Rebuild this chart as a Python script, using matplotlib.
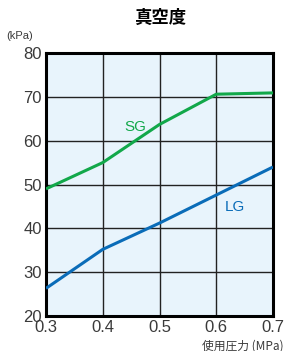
import matplotlib.pyplot as plt

plt.rcParams['font.family'] = ['Liberation Sans Narrow', 'Liberation Sans', 'Noto Sans CJK JP', 'DejaVu Sans']

# data
pressure = [0.3, 0.4, 0.5, 0.6, 0.7]
sg = [49, 55, 63.7, 70.6, 70.9]
lg = [26.3, 35.2, 41.2, 47.6, 54.0]

fig = plt.figure(figsize=(2.92, 3.51), dpi=100)
ax = fig.add_axes([46 / 292, 1 - 316 / 351, 227 / 292, 263 / 351])
ax.set_facecolor('#e8f4fc')

ax.plot(pressure, sg, color='#12a84a', lw=2.2, solid_capstyle='butt', zorder=3)
ax.plot(pressure, lg, color='#0a6cb8', lw=2.2, solid_capstyle='butt', zorder=3)

ax.set_xlim(0.3, 0.7)
ax.set_ylim(20, 80)
ax.set_xticks([0.3, 0.4, 0.5, 0.6, 0.7])
ax.set_xticklabels(['0.3', '0.4', '0.5', '0.6', '0.7'])
ax.set_yticks([20, 30, 40, 50, 60, 70, 80])
ax.grid(True, color='#222222', lw=1.0)
ax.tick_params(length=0, labelsize=12, colors='#3a3a3a', pad=3)
for s in ax.spines.values():
    s.set_linewidth(2.2)
    s.set_color('black')

ax.text(0.457, 63.2, 'SG', color='#12a84a', fontsize=11, ha='center', va='center')
ax.text(0.632, 44.9, 'LG', color='#0a6cb8', fontsize=11, ha='center', va='center')

fig.text(160 / 292, 1 - 18 / 351, '真空度', fontsize=12.5, fontweight='bold',
         ha='center', va='center', family=['Noto Sans CJK JP', 'DejaVu Sans'])
fig.text(20 / 292, 1 - 36 / 351, '(kPa)', fontsize=8, ha='center', va='center', color='#3a3a3a')
fig.text(284 / 292, 1 - 346 / 351, '使用圧力 (MPa)', fontsize=8.5, ha='right', va='center',
         color='#3a3a3a', family=['Noto Sans CJK JP', 'DejaVu Sans'])

fig.savefig('out.png', dpi=100)
